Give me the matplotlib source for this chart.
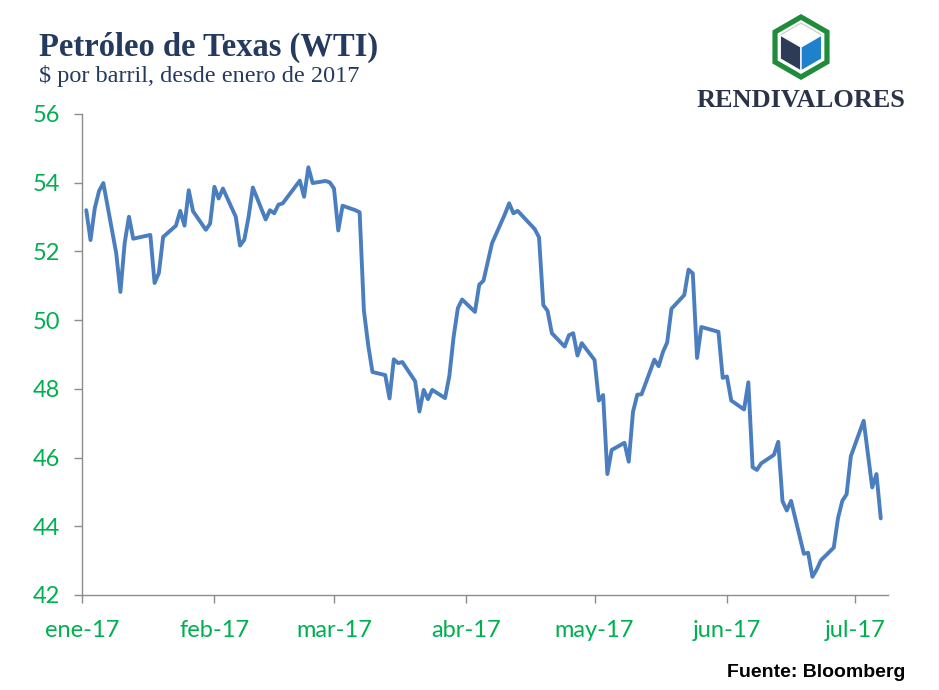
import numpy as np
import pandas as pd
import matplotlib
matplotlib.use("Agg")
import matplotlib.pyplot as plt
from matplotlib.patches import Polygon

# WTI, $ por barril
fechas = ["01-02", "01-03", "01-04", "01-05", "01-06", "01-09", "01-10", "01-11", "01-12", "01-13",
          "01-17", "01-18", "01-19", "01-20", "01-23", "01-24", "01-25", "01-26", "01-27", "01-30",
          "01-31", "02-01", "02-02", "02-03", "02-06", "02-07", "02-08", "02-09", "02-10", "02-13",
          "02-14", "02-15", "02-16", "02-17", "02-21", "02-22", "02-23", "02-24", "02-27", "02-28",
          "03-01", "03-02", "03-03", "03-06", "03-07", "03-08", "03-09", "03-10", "03-13", "03-14",
          "03-15", "03-16", "03-17", "03-20", "03-21", "03-22", "03-23", "03-24", "03-27", "03-28",
          "03-29", "03-30", "03-31", "04-03", "04-04", "04-05", "04-06", "04-07", "04-10", "04-11",
          "04-12", "04-13", "04-17", "04-18", "04-19", "04-20", "04-21", "04-24", "04-25", "04-26",
          "04-27", "04-28", "05-01", "05-02", "05-03", "05-04", "05-05", "05-08", "05-09", "05-10",
          "05-11", "05-12", "05-15", "05-16", "05-17", "05-18", "05-19", "05-22", "05-23", "05-24",
          "05-25", "05-26", "05-30", "05-31", "06-01", "06-02", "06-05", "06-06", "06-07", "06-08",
          "06-09", "06-12", "06-13", "06-14", "06-15", "06-16", "06-19", "06-20", "06-21", "06-22",
          "06-23", "06-26", "06-27", "06-28", "06-29", "06-30", "07-03", "07-05", "07-06", "07-07"]
precios = [53.2, 52.33, 53.26, 53.76, 53.99, 51.96, 50.82, 52.25, 53.01, 52.37,
           52.48, 51.08, 51.37, 52.42, 52.75, 53.18, 52.75, 53.78, 53.17, 52.63,
           52.81, 53.88, 53.54, 53.83, 53.01, 52.17, 52.34, 53.00, 53.86, 52.93,
           53.20, 53.11, 53.36, 53.40, 54.06, 53.59, 54.45, 53.99, 54.05, 54.01,
           53.83, 52.61, 53.33, 53.20, 53.14, 50.28, 49.28, 48.49, 48.40, 47.72,
           48.86, 48.75, 48.78, 48.22, 47.34, 47.97, 47.70, 47.97, 47.73, 48.37,
           49.51, 50.35, 50.60, 50.24, 51.03, 51.15, 51.70, 52.24, 53.08, 53.40,
           53.11, 53.18, 52.65, 52.41, 50.44, 50.27, 49.62, 49.23, 49.56, 49.62,
           48.97, 49.33, 48.84, 47.66, 47.82, 45.52, 46.22, 46.43, 45.88, 47.33,
           47.83, 47.84, 48.85, 48.66, 49.07, 49.35, 50.33, 50.73, 51.47, 51.36,
           48.90, 49.80, 49.66, 48.32, 48.36, 47.66, 47.40, 48.19, 45.72, 45.64,
           45.83, 46.08, 46.46, 44.73, 44.46, 44.74, 43.20, 43.23, 42.53, 42.74,
           43.01, 43.38, 44.24, 44.74, 44.93, 46.04, 47.07, 45.13, 45.52, 44.23]
meses = ["ene-17", "feb-17", "mar-17", "abr-17", "may-17", "jun-17", "jul-17"]

verde = "#00B050"
azul = "#4A7EBF"
navy = "#243A5E"

x = pd.to_datetime(["2017-" + f for f in fechas])

fig = plt.figure(figsize=(9.39, 6.90), dpi=100)
ax = fig.add_axes([0.0873, 0.1377, 0.8584, 0.6971])
ax.plot(x, precios, color=azul, lw=2.8, solid_joinstyle="round", solid_capstyle="round")

ax.set_ylim(42, 56)
ax.set_yticks(range(42, 57, 2))
ax.set_xlim(pd.Timestamp("2017-01-01"), pd.Timestamp("2017-01-01") + pd.Timedelta(days=188.7))
ticks = pd.date_range("2017-01-01", periods=7, freq="MS")
ax.set_xticks(ticks)
ax.set_xticklabels(meses)
for s in ["top", "right"]:
    ax.spines[s].set_visible(False)
for s in ["left", "bottom"]:
    ax.spines[s].set_color("#8c8c8c")
    ax.spines[s].set_linewidth(1.0)
ax.tick_params(axis="both", colors="#8c8c8c", length=6, width=1.0, labelsize=17,
               labelcolor=verde, labelfontfamily="Lato")
ax.tick_params(axis="x", pad=12)
ax.tick_params(axis="y", pad=10)

# titulo, logo y fuente en coordenadas de pixel
ov = fig.add_axes([0, 0, 1, 1], zorder=-1)
ov.set_xlim(0, 939)
ov.set_ylim(690, 0)
ov.axis("off")
ov.text(39, 56, "Petróleo de Texas (WTI)", fontsize=23.5, fontweight="bold", color=navy,
        family="Liberation Serif", va="baseline")
ov.text(39, 82, "$ por barril, desde enero de 2017", fontsize=17.5, color=navy,
        family="Liberation Serif", va="baseline")
ov.text(905, 677, "Fuente: Bloomberg", fontsize=14, fontweight="bold", color="black",
        family="Liberation Sans", ha="right", va="baseline")
ov.text(801, 107, "RENDIVALORES", fontsize=19, fontweight="bold", color="#2B3348",
        family="Liberation Serif", ha="center", va="baseline")


def hexa(cx, cy, r):
    ang = np.radians(90 + 60 * np.arange(6))
    return np.column_stack([cx + r * np.cos(ang), cy - r * np.sin(ang)])


cx, cy = 801, 47
ov.add_patch(Polygon(hexa(cx, cy, 33), closed=True, fc="#1F8B3B", ec="none"))
ov.add_patch(Polygon(hexa(cx, cy, 27), closed=True, fc="white", ec="none"))
r = 24
c30 = r * np.cos(np.radians(30))
top = (cx, cy - r)
ur = (cx + c30, cy - r / 2)
lr = (cx + c30, cy + r / 2)
bot = (cx, cy + r)
ll = (cx - c30, cy + r / 2)
ul = (cx - c30, cy - r / 2)
cen = (cx, cy)
ov.add_patch(Polygon([top, ur, cen, ul], closed=True, fc="white", ec="#c8c8c8", lw=0.8))
ov.add_patch(Polygon([ul, cen, bot, ll], closed=True, fc="#2D3B56", ec="white", lw=1.0))
ov.add_patch(Polygon([cen, ur, lr, bot], closed=True, fc="#1F80CC", ec="white", lw=1.0))

fig.savefig("out.png", dpi=100)
